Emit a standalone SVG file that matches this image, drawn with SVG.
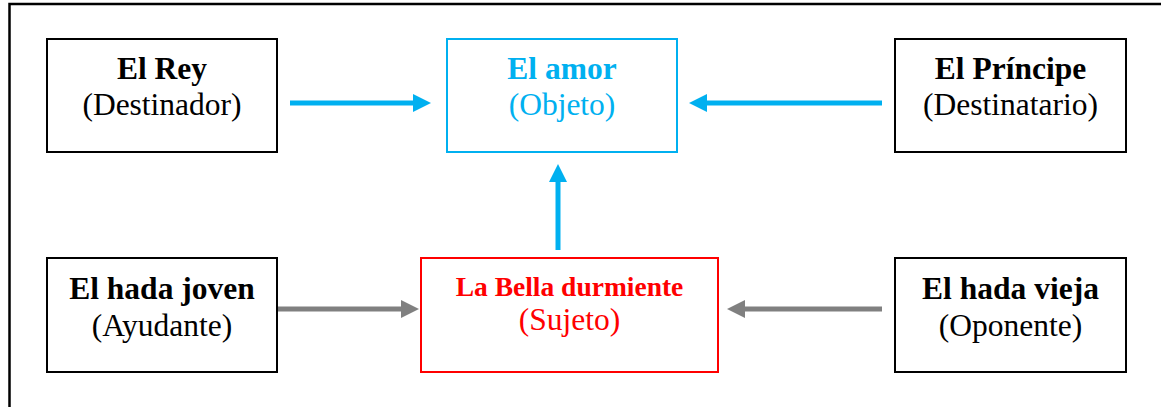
<svg xmlns="http://www.w3.org/2000/svg" width="1161" height="407" viewBox="0 0 1161 407">
  <style>
    .box { fill: #ffffff; stroke-width: 2; }
    .blk { stroke: #000000; }
    .cyan { stroke: #00B0F0; }
    .red { stroke: #FF0000; }
    text { font-family: "Liberation Serif", "Times New Roman", serif; text-anchor: middle; }
    .t1 { font-size: 31.5px; font-weight: bold; fill: #000000; }
    .t2 { font-size: 31.5px; fill: #000000; }
    .cyt { fill: #00B0F0; }
    .rdt { fill: #FF0000; }
    .c-cyan { stroke: #00B0F0; stroke-width: 5; fill: none; }
    .c-gray { stroke: #808080; stroke-width: 5; fill: none; }
  </style>
  <defs>
    <marker id="ahCyan" viewBox="0 0 18 18" refX="0" refY="9" markerWidth="18" markerHeight="18" markerUnits="userSpaceOnUse" orient="auto">
      <path d="M0,0 L18,9 L0,18 z" fill="#00B0F0"/>
    </marker>
    <marker id="ahGray" viewBox="0 0 18 18" refX="0" refY="9" markerWidth="18" markerHeight="18" markerUnits="userSpaceOnUse" orient="auto">
      <path d="M0,0 L18,9 L0,18 z" fill="#808080"/>
    </marker>
  </defs>
  <rect x="0" y="0" width="1161" height="407" fill="#ffffff"/>
  <path d="M9.5,407 V4 H1161" fill="none" stroke="#000000" stroke-width="2.5"/>

  <g id="connectors">
    <line class="c-cyan" x1="290" y1="103" x2="413" y2="103" marker-end="url(#ahCyan)"/>
    <line class="c-cyan" x1="882" y1="103" x2="707" y2="103" marker-end="url(#ahCyan)"/>
    <line class="c-cyan" x1="558" y1="250" x2="558" y2="182" marker-end="url(#ahCyan)"/>
    <line class="c-gray" x1="278" y1="309" x2="401" y2="309" marker-end="url(#ahGray)"/>
    <line class="c-gray" x1="882" y1="309" x2="745" y2="309" marker-end="url(#ahGray)"/>
  </g>

  <g id="node-rey">
    <rect class="box blk" x="47" y="39" width="230" height="113"/>
    <text class="t1" x="162" y="79">El Rey</text>
    <text class="t2" x="162" y="115">(Destinador)</text>
  </g>
  <g id="node-amor">
    <rect class="box cyan" x="447" y="39" width="230" height="113"/>
    <text class="t1 cyt" x="562" y="79">El amor</text>
    <text class="t2 cyt" x="562" y="115">(Objeto)</text>
  </g>
  <g id="node-principe">
    <rect class="box blk" x="895" y="39" width="231" height="113"/>
    <text class="t1" x="1010.5" y="79">El Príncipe</text>
    <text class="t2" x="1010.5" y="115">(Destinatario)</text>
  </g>
  <g id="node-hada-joven">
    <rect class="box blk" x="47" y="258" width="230" height="114"/>
    <text class="t1" x="162" y="299">El hada joven</text>
    <text class="t2" x="162" y="336">(Ayudante)</text>
  </g>
  <g id="node-bella">
    <rect class="box red" x="421" y="258" width="297" height="114"/>
    <text class="t1 rdt" x="569.5" y="295.5" style="font-size:27.5px">La Bella durmiente</text>
    <text class="t2 rdt" x="569.5" y="330">(Sujeto)</text>
  </g>
  <g id="node-hada-vieja">
    <rect class="box blk" x="895" y="258" width="231" height="114"/>
    <text class="t1" x="1010.5" y="299">El hada vieja</text>
    <text class="t2" x="1010.5" y="336">(Oponente)</text>
  </g>
</svg>
